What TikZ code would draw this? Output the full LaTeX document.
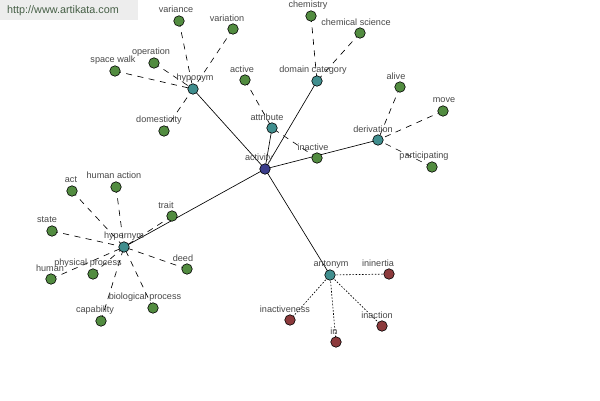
\documentclass[tikz,border=0pt]{standalone}
\usepackage{fontspec}
\setmainfont{Liberation Sans}
\definecolor{leafgreen}{RGB}{82,140,64}
\definecolor{hubteal}{RGB}{64,142,142}
\definecolor{centerblue}{RGB}{60,62,140}
\definecolor{leafred}{RGB}{140,58,60}
\definecolor{lblgray}{RGB}{72,72,72}
\definecolor{wmgreen}{RGB}{70,95,70}
\pgfdeclarelayer{bg}
\pgfdeclarelayer{edges}
\pgfsetlayers{bg,edges,main}
\tikzset{
  dot/.style={circle, draw=black, line width=0.6pt, minimum size=10.5pt, inner sep=0pt},
  leaf/.style={dot, fill=leafgreen},
  redleaf/.style={dot, fill=leafred},
  hub/.style={dot, fill=hubteal},
  core/.style={dot, fill=centerblue},
  lbl/.style={font=\fontsize{9.1}{10}\selectfont, text=lblgray, inner sep=0pt},
  solidedge/.style={draw=black, line width=0.65pt},
  dashedge/.style={draw=black, line width=0.65pt, dash pattern=on 6pt off 5.5pt},
  dotedge/.style={draw=black, line width=0.65pt, dash pattern=on 1.6pt off 1.6pt},
}
\begin{document}
\begin{tikzpicture}[x=1pt,y=-1pt]
\useasboundingbox (0,0) rectangle (600,400);
\begin{pgfonlayer}{bg}
\fill[white] (0,0) rectangle (600,400);
\fill[black!7] (0,0) rectangle (138,20);
\end{pgfonlayer}
\node[font=\fontsize{10.8}{12}\selectfont, text=wmgreen, anchor=west, inner sep=0pt] (wm) at (7,11) {http://www.artikata.com};

% nodes
\node[core] (activity) at (265,169) {};
\node[hub] (hyponym) at (193,89) {};
\node[hub] (attribute) at (272,128) {};
\node[hub] (domain) at (317,81) {};
\node[hub] (derivation) at (378,140) {};
\node[hub] (hypernym) at (124,247) {};
\node[hub] (antonym) at (330,275) {};

\node[leaf] (variance) at (179,21) {};
\node[leaf] (variation) at (233,29) {};
\node[leaf] (operation) at (154,63) {};
\node[leaf] (spacewalk) at (115,71) {};
\node[leaf] (domesticity) at (164,131) {};
\node[leaf] (active) at (245,80) {};
\node[leaf] (inactive) at (317,158) {};
\node[leaf] (chemistry) at (311,16) {};
\node[leaf] (chemsci) at (360,33) {};
\node[leaf] (alive) at (400,87) {};
\node[leaf] (move) at (443,111) {};
\node[leaf] (participating) at (432,167) {};
\node[leaf] (act) at (72,191) {};
\node[leaf] (humanaction) at (116,187) {};
\node[leaf] (trait) at (172,216) {};
\node[leaf] (state) at (52,231) {};
\node[leaf] (human) at (51,279) {};
\node[leaf] (physproc) at (93,274) {};
\node[leaf] (deed) at (187,269) {};
\node[leaf] (bioproc) at (153,308) {};
\node[leaf] (capability) at (101,321) {};
\node[redleaf] (ininertia) at (389,274) {};
\node[redleaf] (inactiveness) at (290,320) {};
\node[redleaf] (in) at (336,342) {};
\node[redleaf] (inaction) at (382,326) {};

% edges
\begin{pgfonlayer}{edges}
\foreach \h in {hyponym,attribute,domain,derivation,hypernym,antonym}
  \draw[solidedge] (activity.center) -- (\h.center);
\foreach \l in {variance,variation,operation,spacewalk,domesticity}
  \draw[dashedge] (\l.center) -- (hyponym.center);
\foreach \l in {active,inactive}
  \draw[dashedge] (\l.center) -- (attribute.center);
\foreach \l in {chemistry,chemsci}
  \draw[dashedge] (\l.center) -- (domain.center);
\foreach \l in {alive,move,participating}
  \draw[dashedge] (\l.center) -- (derivation.center);
\foreach \l in {act,humanaction,trait,state,human,physproc,deed,bioproc,capability}
  \draw[dashedge] (\l.center) -- (hypernym.center);
\foreach \l in {ininertia,inactiveness,in,inaction}
  \draw[dotedge] (antonym.center) -- (\l.center);
\end{pgfonlayer}

% labels
\node[lbl] (l-activity) at (259,158) {activity};
\node[lbl] (l-hyponym) at (195,78) {hyponym};
\node[lbl] (l-attribute) at (267,117) {attribute};
\node[lbl] (l-domain) at (313,70) {domain category};
\node[lbl] (l-derivation) at (373,129) {derivation};
\node[lbl] (l-hypernym) at (124,236) {hypernym};
\node[lbl] (l-antonym) at (331,264) {antonym};
\node[lbl] (l-variance) at (176,9) {variance};
\node[lbl] (l-variation) at (227,18) {variation};
\node[lbl] (l-operation) at (151,52) {operation};
\node[lbl] (l-spacewalk) at (113,60) {space walk};
\node[lbl] (l-domesticity) at (159,120) {domesticity};
\node[lbl] (l-active) at (242,69) {active};
\node[lbl] (l-inactive) at (313,147) {inactive};
\node[lbl] (l-chemistry) at (308,5) {chemistry};
\node[lbl] (l-chemsci) at (356,22) {chemical science};
\node[lbl] (l-alive) at (396,76) {alive};
\node[lbl] (l-move) at (444,100) {move};
\node[lbl] (l-participating) at (424,156) {participating};
\node[lbl] (l-act) at (71,180) {act};
\node[lbl] (l-humanaction) at (114,175) {human action};
\node[lbl] (l-trait) at (166,205) {trait};
\node[lbl] (l-state) at (47,220) {state};
\node[lbl] (l-human) at (50,268) {human};
\node[lbl] (l-physproc) at (88,263) {physical process};
\node[lbl] (l-deed) at (183,258) {deed};
\node[lbl] (l-bioproc) at (145,297) {biological process};
\node[lbl] (l-capability) at (95,310) {capability};
\node[lbl] (l-ininertia) at (378,263) {ininertia};
\node[lbl] (l-inactiveness) at (285,309) {inactiveness};
\node[lbl] (l-in) at (334,331) {in};
\node[lbl] (l-inaction) at (377,315) {inaction};
\end{tikzpicture}
\end{document}
